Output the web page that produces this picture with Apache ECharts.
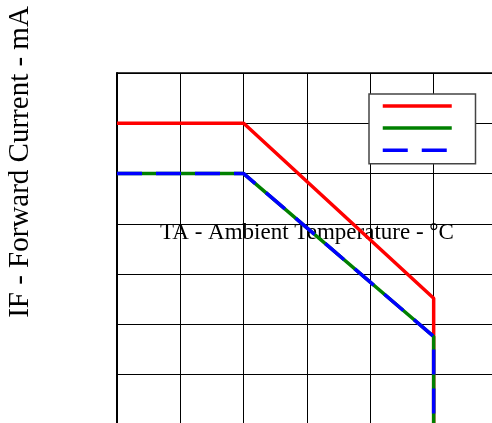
<!DOCTYPE html>
<html>
<head>
<meta charset="utf-8">
<script src="https://cdn.jsdelivr.net/npm/echarts@6/dist/echarts.min.js"></script>
<style>
  html, body { margin: 0; padding: 0; background: #fff; }
  #chart { width: 492px; height: 423px; }
</style>
</head>
<body>
<div id="chart"></div>
<script>
// ambient temperature (°C) at the curve corners
const temps = [-25, 25, 100, 100];
// forward current (mA) for each LED colour
const redCurrent = [30, 30, 12.6, 0];
const greenCurrent = [25, 25, 8.8, 0];
const blueCurrent = [25, 25, 8.8, 0];
const seriesNames = ["Red", "Green", "Blue"];

const toPairs = (ys) => temps.map((t, i) => [t, ys[i]]);

const chart = echarts.init(document.getElementById("chart"));

const option = {
  animation: false,
  grid: { left: 117, top: 73, width: 380, height: 352, outerBoundsMode: "none", containLabel: false },
  legend: {
    left: 369,
    top: 94,
    orient: "vertical",
    data: seriesNames,
    formatter: () => "",
    itemWidth: 69,
    itemHeight: 14,
    itemGap: 9.5,
    padding: [5, 22, 8, 12],
    backgroundColor: "#fff",
    borderColor: "#444",
    borderWidth: 1.5,
    textStyle: { fontSize: 10 },
    lineStyle: { width: 3.5 },
    itemStyle: { color: "transparent", borderColor: "transparent", borderWidth: 0, opacity: 0 },
  },
  xAxis: [
    {
      type: "value",
      min: -25,
      max: 125,
      interval: 25,
      axisLabel: { show: false },
      axisLine: { show: true, onZero: false, lineStyle: { color: "#000", width: 1 } },
      axisTick: { show: true, inside: true, length: 5, lineStyle: { color: "#000" } },
      splitLine: { show: true, lineStyle: { color: "#000", width: 1 } },
      name: "TA - Ambient Temperature - °C",
      nameLocation: "middle",
      nameGap: -204,
      nameTextStyle: { fontFamily: "Liberation Serif", fontSize: 23, color: "#000" },
    },
    {
      // top frame line of the plot
      type: "value",
      position: "top",
      min: -25,
      max: 125,
      interval: 25,
      axisLabel: { show: false },
      axisLine: { show: true, onZero: false, lineStyle: { color: "#000", width: 1.5 } },
      axisTick: { show: false },
      splitLine: { show: false },
    },
  ],
  yAxis: {
    type: "value",
    min: 0,
    max: 35,
    interval: 5,
    axisLabel: { show: false },
    axisLine: { show: true, onZero: false, lineStyle: { color: "#000", width: 2 } },
    axisTick: { show: true, inside: true, length: 6, lineStyle: { color: "#000" } },
    splitLine: { show: true, showMaxLine: true, lineStyle: { color: "#000", width: 1 } },
  },
  graphic: [
    {
      type: "text",
      x: 20,
      y: 162,
      rotation: Math.PI / 2,
      style: {
        text: "IF - Forward Current - mA",
        font: "29px 'Liberation Serif'",
        fill: "#000",
        align: "center",
        verticalAlign: "middle",
      },
    },
  ],
  series: [
    {
      name: seriesNames[0],
      type: "line",
      data: toPairs(redCurrent),
      symbol: "none",
      lineStyle: { color: "#ff0000", width: 3.5 },
      itemStyle: { color: "#ff0000" },
    },
    {
      name: seriesNames[1],
      type: "line",
      data: toPairs(greenCurrent),
      symbol: "none",
      lineStyle: { color: "#008000", width: 3.5 },
      itemStyle: { color: "#008000" },
    },
    {
      name: seriesNames[2],
      type: "line",
      data: toPairs(blueCurrent),
      symbol: "none",
      lineStyle: { color: "#0000ff", width: 3.5, type: [25, 14] },
      itemStyle: { color: "#0000ff" },
    },
  ],
};

chart.setOption(option);
</script>
</body>
</html>
